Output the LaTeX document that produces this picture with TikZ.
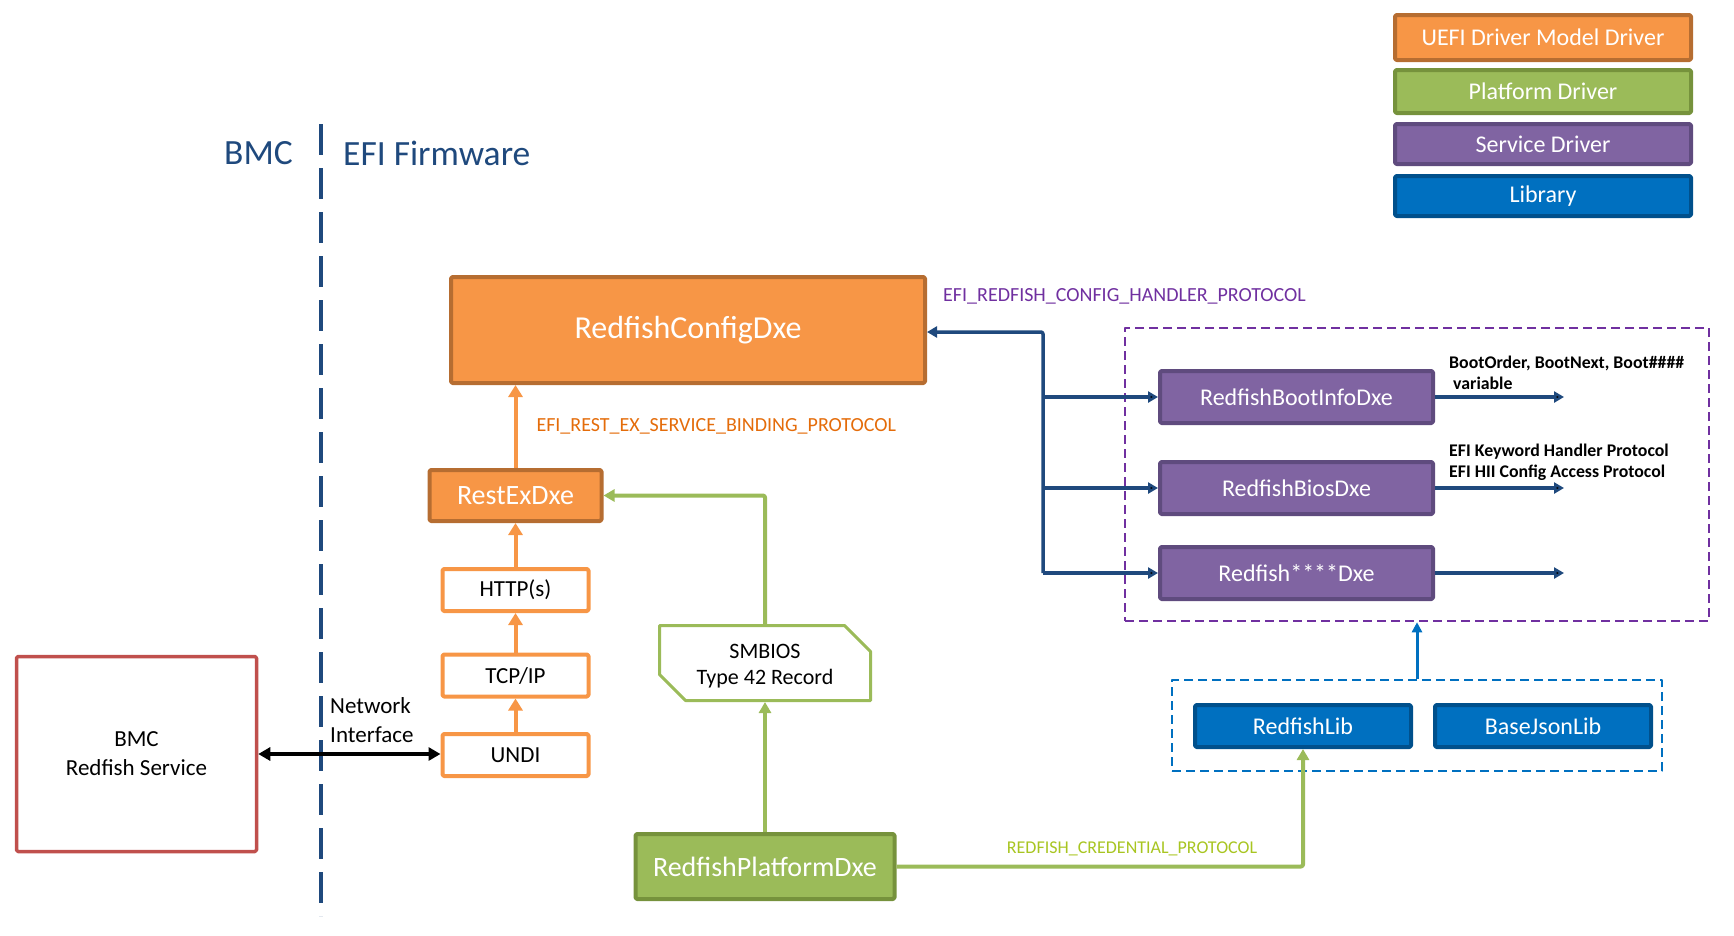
\documentclass[tikz,border=0pt]{standalone}
\usepackage{fontspec}
\setmainfont{Carlito}
\usetikzlibrary{arrows.meta,shapes.misc}

\definecolor{uefiorange}{HTML}{F79646}
\definecolor{uefiedge}{HTML}{B66D31}
\definecolor{pfgreen}{HTML}{9BBB59}
\definecolor{pfedge}{HTML}{76923C}
\definecolor{svcpurple}{HTML}{8064A2}
\definecolor{svcedge}{HTML}{5F4B7E}
\definecolor{libblue}{HTML}{0070C0}
\definecolor{libedge}{HTML}{00508C}
\definecolor{efinavy}{HTML}{1F497D}
\definecolor{bmcred}{HTML}{C0504D}
\definecolor{protopurple}{HTML}{7030A0}
\definecolor{protoorange}{HTML}{E46C0A}
\definecolor{protogreen}{HTML}{A8C521}

\begin{document}
\begin{tikzpicture}[x=1pt, y=-1pt, line join=round,
    drv box/.style={inner sep=0pt, rounded corners=1.5pt, line width=4pt, text=white},
    uefi node/.style={drv box, draw=uefiedge, fill=uefiorange},
    platform node/.style={drv box, draw=pfedge, fill=pfgreen},
    service node/.style={drv box, draw=svcedge, fill=svcpurple, minimum width=273pt, minimum height=52pt, font=\fontsize{24}{29}\selectfont},
    lib node/.style={drv box, draw=libedge, fill=libblue, minimum width=216pt, minimum height=42pt, font=\fontsize{24}{29}\selectfont},
    key box/.style={minimum width=296pt, font=\fontsize{24}{29}\selectfont},
    layer node/.style={drv box, draw=uefiorange, fill=white, text=black, minimum width=146pt, minimum height=42pt, font=\fontsize{23}{28}\selectfont},
    plain text/.style={inner sep=0pt, align=center, font=\fontsize{23}{29}\selectfont},
    heading/.style={inner sep=0pt, text=efinavy, font=\fontsize{35.5}{42}\selectfont},
    proto label/.style={inner sep=0pt, font=\fontsize{20}{24}\selectfont},
    note label/.style={inner sep=0pt, align=left, font=\bfseries\fontsize{17.8}{21}\selectfont},
    group frame/.style={inner sep=0pt, line width=2.5pt, dash pattern=on 9pt off 5pt},
    orange arrow/.style={draw=uefiorange, line width=4pt, -{Triangle[length=12pt, width=14pt]}},
    navy tip/.style={-{Triangle[length=10pt, width=11pt]}},
    green arrow/.style={draw=pfgreen, line width=4pt, rounded corners=2pt, -{Triangle[length=11pt, width=12pt]}}]

  \useasboundingbox (0,0) rectangle (1734,935);

  % legend
  \node[uefi node, key box, minimum height=45pt] (key uefi) at (1543,37.5) {UEFI Driver Model Driver};
  \node[platform node, key box, minimum height=43pt] (key platform) at (1543,91.5) {Platform Driver};
  \node[service node, key box, minimum height=40pt] (key service) at (1543,144) {Service Driver};
  \node[lib node, key box, minimum height=40pt] (key lib) at (1543,196) {Library};

  % BMC | EFI
  \node[heading, anchor=east] (bmc title) at (293,153) {BMC};
  \node[heading, anchor=west] (efi title) at (343,153) {EFI Firmware};
  \draw[efinavy, line width=4pt, dash pattern=on 31pt off 13pt] (321,124) -- (321,916);

  \node[draw=bmcred, line width=3.5pt, rounded corners=1.5pt, minimum width=240pt, minimum height=195pt, plain text] (bmc) at (136.5,754) {BMC\\Redfish Service};
  \node[plain text, anchor=west, align=left] (netif) at (330,720) {Network\\Interface};

  % network stack
  \node[uefi node, minimum width=474pt, minimum height=106pt, font=\fontsize{32}{38}\selectfont] (config) at (688,330) {RedfishConfigDxe};
  \node[uefi node, minimum width=172pt, minimum height=51pt, font=\fontsize{28}{34}\selectfont] (restex) at (515.5,495.5) {RestExDxe};
  \node[layer node] (http) at (515.5,590) {HTTP(s)};
  \node[layer node] (tcp) at (515.5,675.5) {TCP/IP};
  \node[layer node] (undi) at (515.5,755) {UNDI};

  \node[draw=pfgreen, line width=3pt, chamfered rectangle, chamfered rectangle corners={north east,south west},
        chamfered rectangle xsep=13pt, chamfered rectangle ysep=13pt, minimum width=211pt, minimum height=75pt,
        inner sep=0pt, align=center, font=\fontsize{22}{26}\selectfont] (smbios) at (765,663)
        {\raisebox{-3pt}[\height][\depth]{SMBIOS}\\\raisebox{-3pt}[\height][\depth]{Type 42 Record}};
  \node[platform node, minimum width=259pt, minimum height=65pt, font=\fontsize{28}{34}\selectfont] (platform) at (765,866.5) {RedfishPlatformDxe};

  % service drivers
  \node[group frame, draw=protopurple, minimum width=584pt, minimum height=293pt] (service group) at (1417,474.5) {};
  \node[service node] (bootinfo) at (1296.5,397) {RedfishBootInfoDxe};
  \node[service node] (bios) at (1296.5,488) {RedfishBiosDxe};
  \node[service node] (stars) at (1296.5,573) {Redfish****Dxe};

  \node[note label, anchor=west] (bootinfo note) at (1449,373) {BootOrder, BootNext, Boot\#\#\#\#\\\hspace*{4pt}variable};
  \node[note label, anchor=west] (bios note) at (1449,462) {EFI Keyword Handler Protocol\\EFI HII Config Access Protocol};
  \coordinate (note end) at (1564,0);

  % libraries
  \node[group frame, draw=libblue, minimum width=490pt, minimum height=91pt] (lib group) at (1417,725.5) {};
  \node[lib node] (redfishlib) at (1303,726) {RedfishLib};
  \node[lib node] (basejson) at (1543,726) {BaseJsonLib};

  \node[proto label, anchor=west, text=protopurple] (config proto) at (943,296) {EFI\_REDFISH\_CONFIG\_HANDLER\_PROTOCOL};
  \node[proto label, text=protogreen, font=\fontsize{18}{22}\selectfont] (cred proto) at (1132,849) {REDFISH\_CREDENTIAL\_PROTOCOL};

  % connectors
  \draw[orange arrow] (restex.north) -- node [right=19pt, proto label, text=protoorange] {EFI\_REST\_EX\_SERVICE\_BINDING\_PROTOCOL} (restex.north |- config.south);
  \draw[orange arrow] (http.north) -- (restex.south);
  \draw[orange arrow] (tcp.north) -- (http.south);
  \draw[orange arrow] (undi.north) -- (tcp.south);

  \draw[line width=4pt, {Triangle[length=12pt, width=13pt]}-{Triangle[length=12pt, width=13pt]}] (bmc.east) -- (bmc.east -| undi.west);

  \draw[green arrow] (platform.north) -- (smbios.south);
  \draw[green arrow] (smbios.north) |- (restex.east);
  \draw[green arrow] (platform.east) -| (redfishlib.south);

  \coordinate (hub) at (1043,332);
  \draw[draw=efinavy, line width=3.5pt, rounded corners=2pt, {Triangle[length=10pt, width=11pt]}-] (config.east |- hub) -- (hub) -- (hub |- stars.west);
  \path[draw=efinavy, line width=3.5pt]
    (hub |- bootinfo.west) edge[navy tip] (bootinfo.west)
    (hub |- bios.west) edge[navy tip] (bios.west)
    (hub |- stars.west) edge[navy tip] (stars.west)
    (bootinfo.east) edge[navy tip] (bootinfo.east -| note end)
    (bios.east) edge[navy tip] (bios.east -| note end)
    (stars.east) edge[navy tip] (stars.east -| note end);

  \draw[draw=libblue, line width=3pt, -{Triangle[length=10pt, width=10pt]}] (lib group.north) -- (service group.south);

\end{tikzpicture}
\end{document}
